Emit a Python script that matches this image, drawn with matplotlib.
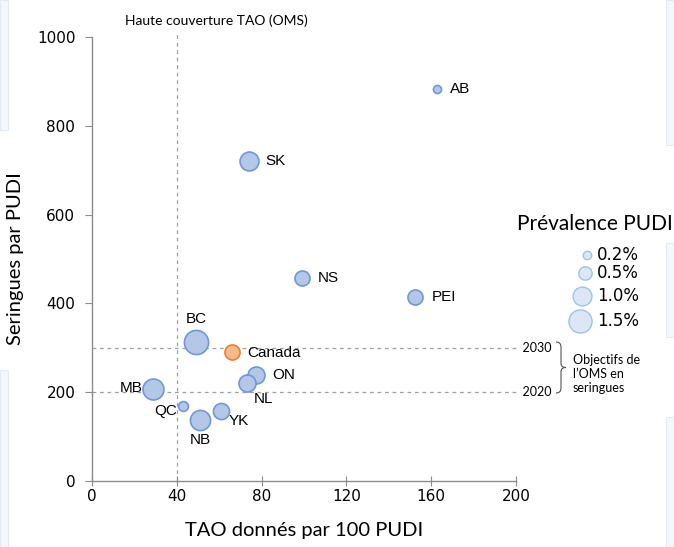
import numpy as np
import matplotlib.pyplot as plt
from matplotlib.path import Path
from matplotlib.patches import PathPatch, Rectangle

# data
provinces = ['AB', 'SK', 'NS', 'PEI', 'BC', 'Canada', 'ON', 'NL', 'MB', 'QC', 'NB', 'YK']
tao = [162.9, 73.9, 98.9, 152.4, 49.1, 65.9, 77.4, 73.3, 28.9, 43.1, 51.1, 60.8]
seringues = [884, 721, 457, 415, 314, 291, 239, 220, 207, 169, 137, 157]
prevalence = [0.2, 1.1, 0.7, 0.7, 1.8, 0.7, 0.9, 0.9, 1.35, 0.3, 1.25, 0.8]
legend_prev = [0.2, 0.5, 1.0, 1.5]
legend_labels = ['0.2%', '0.5%', '1.0%', '1.5%']
cible_2020 = 200
cible_2030 = 300
couverture_tao = 40

# label placement (offset in points, alignment)
offsets = {
    'AB': (9.4, 0, 'left'), 'SK': (12, 0, 'left'), 'NS': (11.5, 0, 'left'),
    'PEI': (12, 0, 'left'), 'BC': (0, 16, 'center'), 'Canada': (11, -1, 'left'),
    'ON': (11.5, 0, 'left'), 'NL': (11.5, -11.5, 'center'), 'MB': (-8, 1, 'right'),
    'QC': (-4.3, -3.6, 'right'), 'NB': (0, -14.4, 'center'), 'YK': (5.8, -7, 'left'),
}

W, H = 674, 547
fig = plt.figure(figsize=(W / 100, H / 100), dpi=100)

def fx(px):
    return px / W

def fy(py):
    return 1 - py / H

# faint background panels (from the source slide)
for (x0, y0, x1, y1) in [(0, 0, 8, 130), (0, 370, 8, 547), (666, 0, 674, 145),
                         (666, 243, 674, 337), (666, 417, 674, 547)]:
    fig.patches.append(Rectangle((fx(x0), fy(y1)), fx(x1 - x0), (y1 - y0) / H,
                                 transform=fig.transFigure, facecolor='#f4f7fc',
                                 edgecolor='#e3e9f6', lw=0.8, zorder=0))

ax = fig.add_axes([fx(92), fy(481), fx(516 - 92), (481 - 37) / H])
ax.set_xlim(0, 200)
ax.set_ylim(0, 1000)
ax.patch.set_alpha(0)

for s in ['top', 'right']:
    ax.spines[s].set_visible(False)
for s in ['left', 'bottom']:
    ax.spines[s].set_color('#8c8c8c')
    ax.spines[s].set_linewidth(1)

ax.set_xticks(np.arange(0, 201, 40))
ax.set_yticks(np.arange(0, 1001, 200))
ax.tick_params(axis='x', direction='inout', length=7, color='#8c8c8c', labelsize=11, pad=2)
ax.tick_params(axis='y', direction='out', length=5, color='#8c8c8c', labelsize=11, pad=7)
for lab in ax.get_xticklabels() + ax.get_yticklabels():
    lab.set_fontfamily('DejaVu Sans')

ax.set_xlabel('TAO donnés par 100 PUDI', fontsize=14.5, fontfamily='Lato', labelpad=13)
ax.set_ylabel('Seringues par PUDI', fontsize=14.5, fontfamily='Lato', labelpad=9)

# reference lines
ax.plot([couverture_tao, couverture_tao], [0, 1009], ls=(0, (3, 3)), color='#a0a0a0',
        lw=0.9, clip_on=False, zorder=1)
for yv in [cible_2030, cible_2020]:
    ax.plot([0, 200], [yv, yv], ls=(0, (3, 3)), color='#a0a0a0', lw=0.9,
            clip_on=False, zorder=1)
ax.text(0.5 * (fx(122) + fx(310)), fy(21), 'Haute couverture TAO (OMS)',
        transform=fig.transFigure, fontsize=10, fontfamily='Lato', ha='center', va='center')

ax.text(200, cible_2030, '  2030', fontsize=9, fontfamily='Lato', ha='left', va='center')
ax.text(200, cible_2020, '  2020', fontsize=9, fontfamily='Lato', ha='left', va='center')

# brace
bx, tip = 561, 566
top, bot = 342, 393
mid = (top + bot) / 2
verts = [(556, top), (bx, top), (bx, top + 5), (bx, mid - 4), (bx, mid), (tip, mid),
         (bx, mid), (bx, mid + 4), (bx, bot - 5), (bx, bot), (556, bot)]
codes = [Path.MOVETO, Path.CURVE3, Path.CURVE3, Path.LINETO, Path.CURVE3, Path.CURVE3,
         Path.CURVE3, Path.CURVE3, Path.LINETO, Path.CURVE3, Path.CURVE3]
verts = [(fx(a), fy(b)) for a, b in verts]
fig.patches.append(PathPatch(Path(verts, codes), transform=fig.transFigure,
                             facecolor='none', edgecolor='#555555', lw=0.8))
fig.text(fx(573), fy(374), 'Objectifs de\nl\u2019OMS en\nseringues', fontsize=9,
         fontfamily='Lato', ha='left', va='center', linespacing=1.25)

# bubbles
scale = 168
for name, x, y, p in zip(provinces, tao, seringues, prevalence):
    if name == 'Canada':
        fc, ec = '#f8b98c', '#ee7d31'
    else:
        fc, ec = '#b4c7e7', '#6e98da'
    ax.scatter(x, y, s=scale * p, facecolor=fc, edgecolor=ec, linewidth=1.2, zorder=3)
    dx, dy, ha = offsets[name]
    ax.annotate(name, (x, y), xytext=(dx, dy), textcoords='offset points', ha=ha,
                va='center', fontsize=11, fontfamily='Liberation Sans', zorder=4)

# size legend
fig.text(fx(517), fy(224), 'Prévalence PUDI', fontsize=15, fontfamily='Lato',
         ha='left', va='center')
rows = [255, 273, 296, 321]
for p, lab, py in zip(legend_prev, legend_labels, rows):
    r = 9 * np.sqrt(p)
    ax.scatter([fx(591 - r)], [fy(py)], s=scale * p * 1.1, transform=fig.transFigure,
               facecolor='#dde6f5', edgecolor='#9dc3e6', linewidth=1, clip_on=False)
    fig.text(fx(597), fy(py), lab, fontsize=12, fontfamily='DejaVu Sans',
             ha='left', va='center')

fig.savefig('out.png', dpi=100)
